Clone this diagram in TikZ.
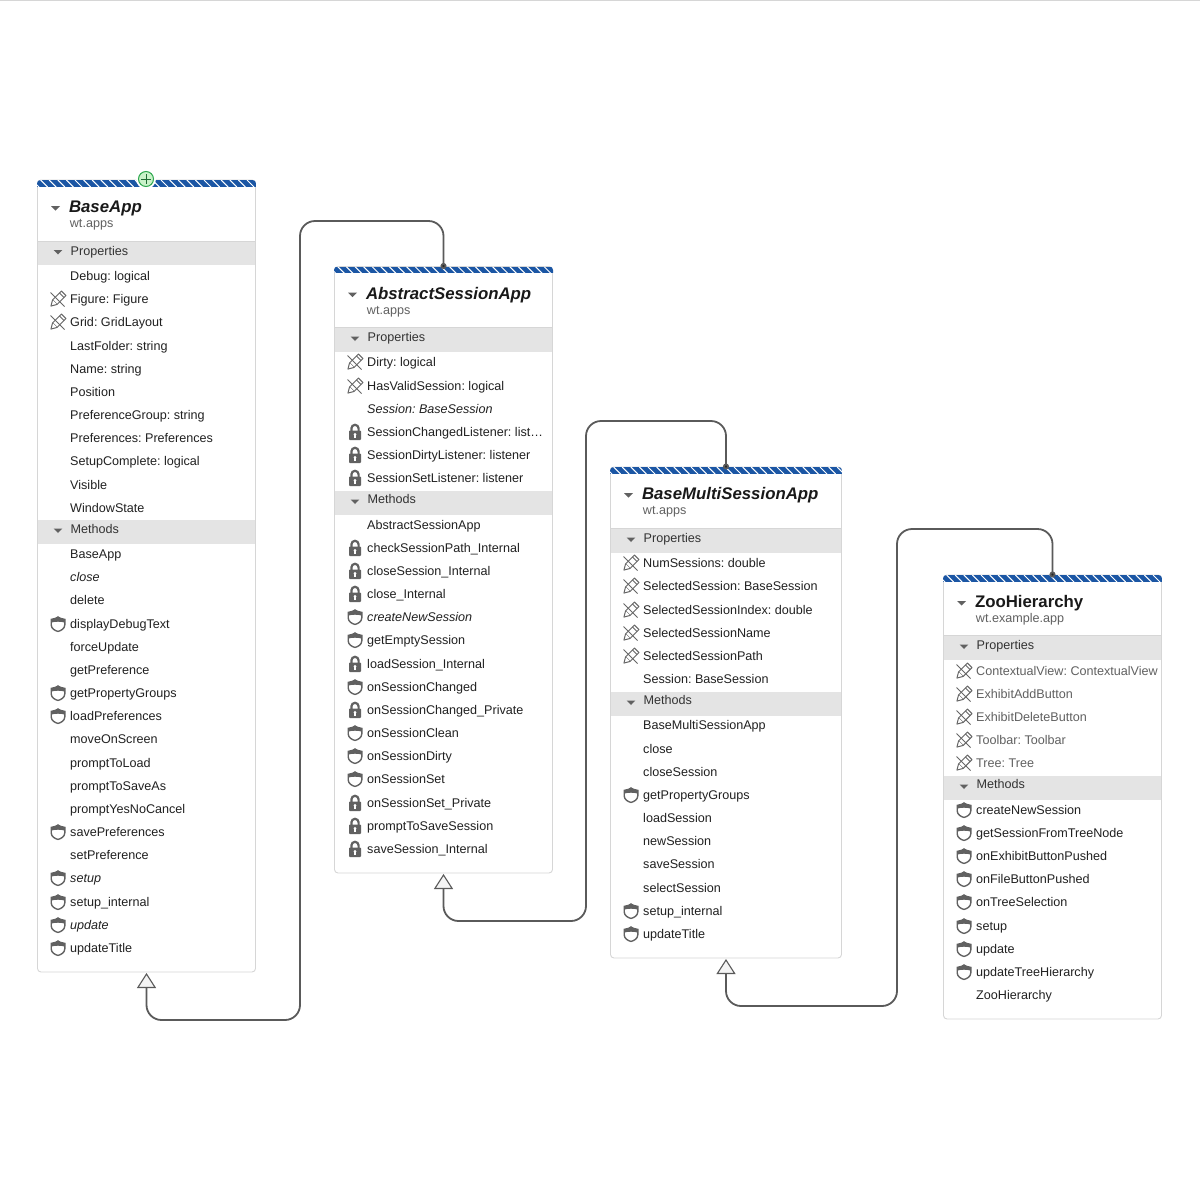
\documentclass[tikz,border=0pt]{standalone}
\usepackage{fontspec}
\setmainfont{Liberation Sans}
\usetikzlibrary{arrows.meta,calc}
\frenchspacing
\definecolor{txt}{HTML}{212121}
\definecolor{subtxt}{HTML}{616161}
\definecolor{bandc}{HTML}{E4E4E4}
\definecolor{edgec}{HTML}{D6D6D6}
\definecolor{iconc}{HTML}{616161}
\definecolor{pencilc}{HTML}{666666}
\definecolor{stripec}{HTML}{1B56A4}
\definecolor{linkc}{HTML}{5A5A5A}
\definecolor{plusfill}{HTML}{C9F2C9}
\definecolor{plusedge}{HTML}{2FA84F}
\definecolor{plusmk}{HTML}{1F6B33}
\newcounter{rowid}
\tikzset{
  x=1pt,y=-1pt,
  classbox/.style={draw=edgec,line width=.9pt,fill=white,rounded corners=3.5pt,inner sep=0pt,outer sep=0pt},
  rowtext/.style={anchor=base west,inner sep=0pt,text=txt,font=\fontsize{12.6}{14}\selectfont},
  grouptext/.style={rowtext,text=black!80},
  titletext/.style={anchor=base west,inner sep=0pt,text=black!90,font=\fontsize{16.8}{18}\selectfont\bfseries},
  subtext/.style={rowtext,text=subtxt},
  inherit/.style={draw=linkc,line width=1.8pt,rounded corners=15pt,shorten >=1pt,shorten <=-2.5pt,
    {Circle[length=6pt,width=6pt,fill=black!85!white]}-{Triangle[open,length=15pt,width=19pt,fill=bandc!40!white,line width=1.1pt]}},
  lockic/.pic={
    \draw[iconc,line width=2.2pt] (-3.6,-1) -- (-3.6,-3.6) arc[start angle=180,end angle=360,radius=3.6] -- (3.6,-1);
    \fill[iconc,rounded corners=.8pt] (-6,-1.5) rectangle (6,8);
    \fill[white] (0,2.4) circle[radius=1.5];
    \fill[white] (-.7,2.4) rectangle (.7,5.5);
  },
  shieldic/.pic={
    \draw[iconc,line width=1.4pt,fill=white] (-6.8,-4.6) -- (-2.5,-5.6) -- (0,-7) -- (2.5,-5.6) -- (6.8,-4.6)
      -- (6.8,.8) .. controls (6.8,4.5) and (3,6.8) .. (0,7.4) .. controls (-3,6.8) and (-6.8,4.5) .. (-6.8,.8) -- cycle;
    \fill[iconc] (-6.8,-4.6) -- (-2.5,-5.6) -- (0,-7) -- (2.5,-5.6) -- (6.8,-4.6) -- (6.8,-1.4) .. controls (3,-2.6) and (-3,-2.6) .. (-6.8,-1.4) -- cycle;
  },
  pencilic/.pic={
    \begin{scope}[xshift=-.7pt,yshift=-.7pt,rotate=-45]
      \draw[pencilc,line width=1pt,line join=round,fill=white] (-3.2,-9) rectangle (3.2,3.5);
      \draw[pencilc,line width=1pt,line join=round,fill=white] (-3.2,3.5) -- (0,9) -- (3.2,3.5);
      \draw[pencilc,line width=1pt] (-3.2,-6.3) -- (3.2,-6.3);
    \end{scope}
    \draw[pencilc,line width=1pt] (-7.5,-6.5) -- (6.5,7.5);
  },
}
% \ClassBox{name}{left}{top}{right}{bottom}{header bottom}{title base ref}{title}{package}
\newcommand{\ClassBox}[9]{%
  \node[classbox,minimum width={(#4)-(#2)},minimum height={(#5)-(#3)}] (#1) at ({((#2)+(#4))/2-.5},{((#3)+(#5))/2}) {};
  \begin{scope}
    \clip[rounded corners=3.5pt] (#2-1,#3) rectangle (#4,#3+20);
    \fill[stripec] (#2-1.5,#3) rectangle (#4+.5,#3+6.5);
    \foreach \hx in {0,8.6,...,300}{\draw[white,line width=1pt] ({#2-6+\hx},#3) -- ({#2+1+\hx},#3+7);}
  \end{scope}
  \draw[edgec,line width=1.3pt] (#2-.5,#6) -- (#4-.5,#6);
  \fill[iconc] (#2+13,#7-1) -- (#2+22,#7-1) -- (#2+17.5,#7+3.5) -- cycle;
  \node[titletext] (#1title) at (#2+30.8,#7+5.5) {#8};
  \node[subtext] (#1pkg) at (#2+31.7,#7+20.7) {#9};
}
% \Band{left}{right}{top}{text y}{label}
\newcommand{\Band}[5]{%
  \fill[bandc] (#1,#3) rectangle (#2-1,#3+23.5);
  \fill[iconc] (#1+15.7,#3+8.5) -- (#1+24.3,#3+8.5) -- (#1+20,#3+13) -- cycle;
  \stepcounter{rowid}%
  \node[grouptext] (row\therowid) at (#1+32.5,#4+4.7) {#5};
}
\newcommand{\RowAt}[4]{% icon, x, y, text
  \stepcounter{rowid}%
  \node[rowtext] (row\therowid) at (#2,#3+4.7) {#4};
  \ifx#1n\else\ifx#1p\pic at (#2-12,#3) {pencilic};\else\ifx#1l\pic at (#2-12,#3) {lockic};\else\pic at (#2-12,#3) {shieldic};\fi\fi\fi
}
\begin{document}
\begin{tikzpicture}
\useasboundingbox (0,0) rectangle (1200,1200);
\fill[white] (0,0) rectangle (1200,1200);
\coordinate (topa) at (0,.5); \coordinate (topb) at (1200,.5);
\draw[edgec,line width=1pt] (topa) -- (topb);

% ---------- BaseApp
\ClassBox{base}{38}{180}{256}{972}{241.5}{207}{\textit{BaseApp}}{wt.apps}
\Band{38}{256}{241.5}{251}{Properties}
\RowAt{n}{70}{276}{Debug: logical}
\RowAt{p}{70}{299}{Figure: Figure}
\RowAt{p}{70}{322}{Grid: GridLayout}
\RowAt{n}{70}{346}{LastFolder: string}
\RowAt{n}{70}{369}{Name: string}
\RowAt{n}{70}{392}{Position}
\RowAt{n}{70}{415}{PreferenceGroup: string}
\RowAt{n}{70}{438}{Preferences: Preferences}
\RowAt{n}{70}{461}{SetupComplete: logical}
\RowAt{n}{70}{485}{Visible}
\RowAt{n}{70}{508}{WindowState}
\Band{38}{256}{520}{529}{Methods}
\RowAt{n}{70}{554}{BaseApp}
\RowAt{n}{70}{577}{\textit{close}}
\RowAt{n}{70}{600}{delete}
\RowAt{s}{70}{624}{displayDebugText}
\RowAt{n}{70}{647}{forceUpdate}
\RowAt{n}{70}{670}{getPreference}
\RowAt{s}{70}{693}{getPropertyGroups}
\RowAt{s}{70}{716}{loadPreferences}
\RowAt{n}{70}{739}{moveOnScreen}
\RowAt{n}{70}{763}{promptToLoad}
\RowAt{n}{70}{786}{promptToSaveAs}
\RowAt{n}{70}{809}{promptYesNoCancel}
\RowAt{s}{70}{832}{savePreferences}
\RowAt{n}{70}{855}{setPreference}
\RowAt{s}{70}{878}{\textit{setup}}
\RowAt{s}{70}{902}{setup\_internal}
\RowAt{s}{70}{925}{\textit{update}}
\RowAt{s}{70}{948}{updateTitle}

% plus marker
\node[circle,fill=white,minimum size=20pt,inner sep=0pt] (plusback) at (146,179) {};
\node[circle,draw=plusedge,line width=1pt,fill=plusfill,minimum size=15pt,inner sep=0pt] (plusmark) at (146,179) {};
\draw[plusmk,line width=.9pt] ($(plusmark.center)+(-5,0)$) -- ($(plusmark.center)+(5,0)$);
\draw[plusmk,line width=.9pt] ($(plusmark.center)+(0,-5)$) -- ($(plusmark.center)+(0,5)$);

% ---------- AbstractSessionApp
\ClassBox{abs}{335}{266.5}{553}{873}{328}{293.5}{\textit{AbstractSessionApp}}{wt.apps}
\Band{335}{553}{328}{337}{Properties}
\RowAt{p}{367}{362}{Dirty: logical}
\RowAt{p}{367}{386}{HasValidSession: logical}
\RowAt{n}{367}{409}{\textit{Session: BaseSession}}
\RowAt{l}{367}{432}{SessionChangedListener: list…}
\RowAt{l}{367}{455}{SessionDirtyListener: listener}
\RowAt{l}{367}{478}{SessionSetListener: listener}
\Band{335}{553}{491}{499}{Methods}
\RowAt{n}{367}{525}{AbstractSessionApp}
\RowAt{l}{367}{548}{checkSessionPath\_Internal}
\RowAt{l}{367}{571}{closeSession\_Internal}
\RowAt{l}{367}{594}{close\_Internal}
\RowAt{s}{367}{617}{\textit{createNewSession}}
\RowAt{s}{367}{640}{getEmptySession}
\RowAt{l}{367}{664}{loadSession\_Internal}
\RowAt{s}{367}{687}{onSessionChanged}
\RowAt{l}{367}{710}{onSessionChanged\_Private}
\RowAt{s}{367}{733}{onSessionClean}
\RowAt{s}{367}{756}{onSessionDirty}
\RowAt{s}{367}{779}{onSessionSet}
\RowAt{l}{367}{803}{onSessionSet\_Private}
\RowAt{l}{367}{826}{promptToSaveSession}
\RowAt{l}{367}{849}{saveSession\_Internal}

% ---------- BaseMultiSessionApp
\ClassBox{multi}{611}{467}{842}{958}{529}{494}{\textit{BaseMultiSessionApp}}{wt.apps}
\Band{611}{842}{529}{538}{Properties}
\RowAt{p}{643}{563}{NumSessions: double}
\RowAt{p}{643}{586}{SelectedSession: BaseSession}
\RowAt{p}{643}{610}{SelectedSessionIndex: double}
\RowAt{p}{643}{633}{SelectedSessionName}
\RowAt{p}{643}{656}{SelectedSessionPath}
\RowAt{n}{643}{679}{Session: BaseSession}
\Band{611}{842}{692}{700}{Methods}
\RowAt{n}{643}{725}{BaseMultiSessionApp}
\RowAt{n}{643}{749}{close}
\RowAt{n}{643}{772}{closeSession}
\RowAt{s}{643}{795}{getPropertyGroups}
\RowAt{n}{643}{818}{loadSession}
\RowAt{n}{643}{841}{newSession}
\RowAt{n}{643}{864}{saveSession}
\RowAt{n}{643}{888}{selectSession}
\RowAt{s}{643}{911}{setup\_internal}
\RowAt{s}{643}{934}{updateTitle}

% ---------- ZooHierarchy
\ClassBox{zoo}{944}{575}{1162}{1019}{636}{602}{ZooHierarchy}{wt.example.app}
\Band{944}{1162}{636}{645}{Properties}
\RowAt{p}{976}{671}{\textcolor{subtxt}{ContextualView: ContextualView}}
\RowAt{p}{976}{694}{\textcolor{subtxt}{ExhibitAddButton}}
\RowAt{p}{976}{717}{\textcolor{subtxt}{ExhibitDeleteButton}}
\RowAt{p}{976}{740}{\textcolor{subtxt}{Toolbar: Toolbar}}
\RowAt{p}{976}{763}{\textcolor{subtxt}{Tree: Tree}}
\Band{944}{1162}{776}{784}{Methods}
\RowAt{s}{976}{810}{createNewSession}
\RowAt{s}{976}{833}{getSessionFromTreeNode}
\RowAt{s}{976}{856}{onExhibitButtonPushed}
\RowAt{s}{976}{879}{onFileButtonPushed}
\RowAt{s}{976}{902}{onTreeSelection}
\RowAt{s}{976}{926}{setup}
\RowAt{s}{976}{949}{update}
\RowAt{s}{976}{972}{updateTreeHierarchy}
\RowAt{n}{976}{995}{ZooHierarchy}

% ---------- connectors
\coordinate (bendAa) at (300,221); \coordinate (bendAb) at (300,1020);
\coordinate (bendBa) at (586,421); \coordinate (bendBb) at (586,921);
\coordinate (bendCa) at (897,529); \coordinate (bendCb) at (897,1006);
\draw[inherit] (abs.north) |- (bendAa) -- (bendAb) -| (base.south);
\draw[inherit] (multi.north) |- (bendBa) -- (bendBb) -| (abs.south);
\draw[inherit] (zoo.north) |- (bendCa) -- (bendCb) -| (multi.south);
\end{tikzpicture}
\end{document}
